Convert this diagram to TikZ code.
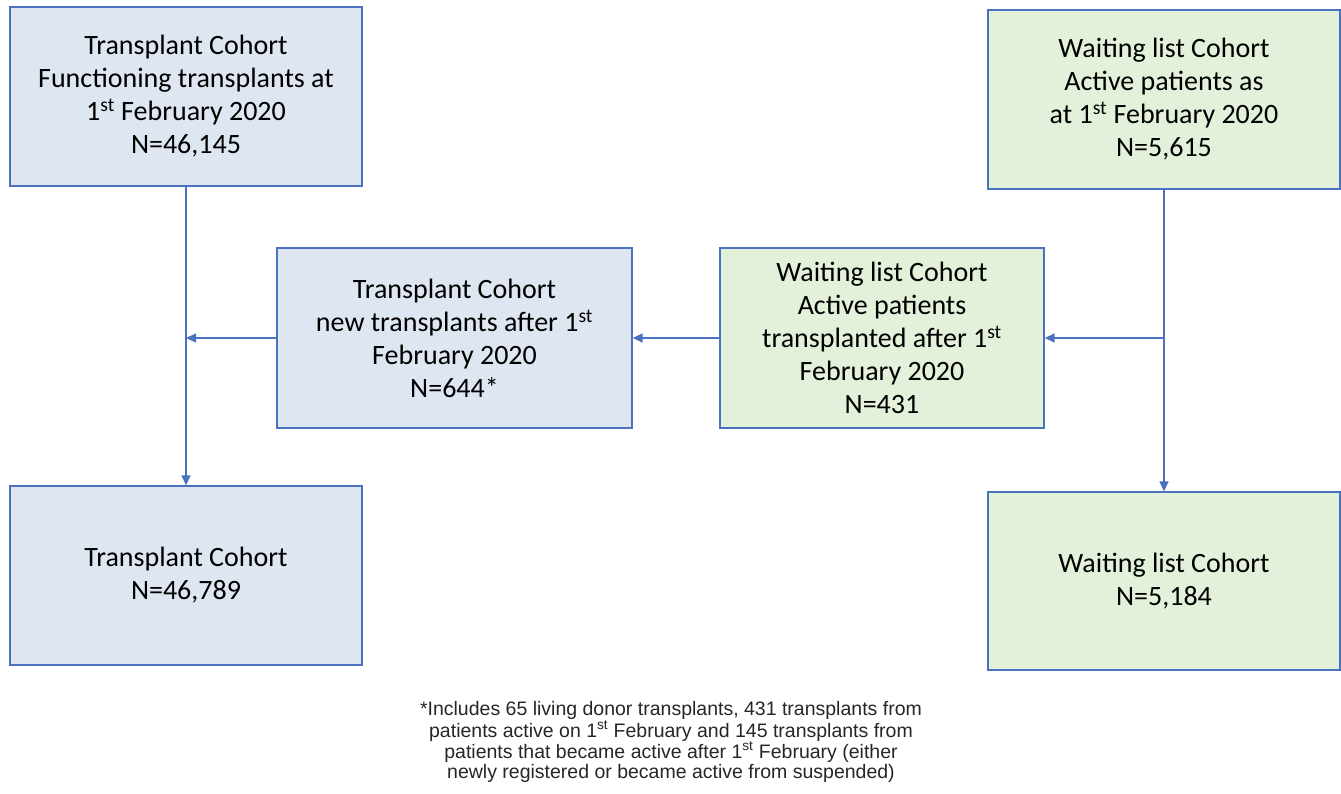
\documentclass[tikz,border=0pt]{standalone}
\usepackage{fontspec}
\setmainfont{Carlito}
\newfontfamily\notefont{Liberation Sans}
\usetikzlibrary{arrows.meta}
\definecolor{bfill}{HTML}{DEE6F2}
\definecolor{gfill}{HTML}{E3F1DA}
\definecolor{edge}{HTML}{4A72C0}
\tikzset{
  boxbase/.style={draw=edge, line width=1.3pt, align=center, inner sep=2pt,
    font=\fontsize{28}{33}\selectfont, text=black},
  bluebox/.style={boxbase, fill=bfill},
  greenbox/.style={boxbase, fill=gfill},
  conn/.style={draw=edge, line width=1.4pt, -{Triangle[length=10pt,width=9pt]}},
}
\begin{document}
\begin{tikzpicture}[x=1pt,y=-1pt]
\useasboundingbox (0,0) rectangle (1341,794);
\node[bluebox, minimum width=352pt, minimum height=179pt] (b1) at (186,96.5)
  {Transplant Cohort\\Functioning transplants at\\1\textsuperscript{st} February 2020\\N=46,145};
\node[greenbox, minimum width=352pt, minimum height=179pt] (b2) at (1164,99.5)
  {Waiting list Cohort\\Active patients as\\at 1\textsuperscript{st} February 2020\\N=5,615};
\node[bluebox, minimum width=355pt, minimum height=180pt] (b3) at (454.5,338)
  {Transplant Cohort\\new transplants after 1\textsuperscript{st}\\February 2020\\N=644*};
\node[greenbox, minimum width=324pt, minimum height=180pt] (b4) at (882,338)
  {Waiting list Cohort\\Active patients\\transplanted after 1\textsuperscript{st}\\February 2020\\N=431};
\node[bluebox, minimum width=352pt, minimum height=179pt] (b5) at (186,575.5)
  {Transplant Cohort\\N=46,789};
\node[greenbox, minimum width=352pt, minimum height=178pt] (b6) at (1164,581)
  {Waiting list Cohort\\N=5,184};
\node[align=center, font=\notefont\fontsize{19.5}{20}\selectfont, text=black!85] (note) at (671,742)
  {*Includes 65 living donor transplants, 431 transplants from\\
   patients active on 1\textsuperscript{st} February and 145 transplants from\\
   patients that became active after 1\textsuperscript{st} February (either\\
   newly registered or became active from suspended)};
\draw[conn] (b1.south) -- (b5.north);
\draw[conn] (b2.south) -- (b6.north);
\coordinate (lj) at (b3.west -| b1.south);
\coordinate (rj) at (b4.east -| b2.south);
\draw[conn] (b3.west) -- (lj);
\draw[conn] (rj) -- (b4.east);
\draw[conn] (b4.west) -- (b3.east);
\end{tikzpicture}
\end{document}
